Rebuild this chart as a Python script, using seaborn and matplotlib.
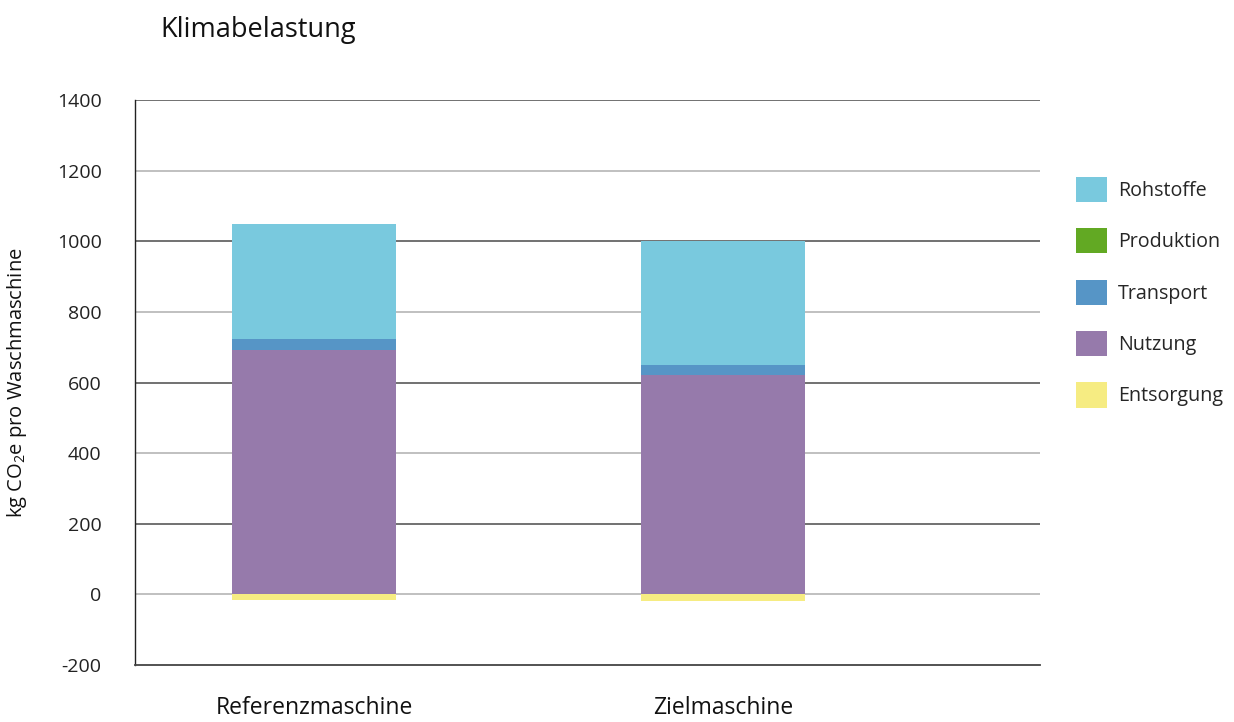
import matplotlib
matplotlib.use('Agg')
import matplotlib.pyplot as plt
from matplotlib.patches import Patch
import seaborn as sns
import pandas as pd

# data
machines = ['Referenzmaschine', 'Zielmaschine']
rohstoffe = [327, 350]
produktion = [0, 0]
transport = [30, 30]
nutzung = [693, 620]
entsorgung = [-17, -20]

stages = ['Rohstoffe', 'Produktion', 'Transport', 'Nutzung', 'Entsorgung']
colors = ['#79c9de', '#62a923', '#5695c6', '#967aab', '#f6ec82']

sns.set_theme(style='white')
plt.rcParams['font.family'] = ['Open Sans', 'DejaVu Sans']
plt.rcParams['mathtext.fontset'] = 'custom'
plt.rcParams['mathtext.rm'] = 'Open Sans'
plt.rcParams['mathtext.it'] = 'Open Sans'
plt.rcParams['axes.unicode_minus'] = False

df = pd.DataFrame({'machine': machines, 'Rohstoffe': rohstoffe,
                   'Produktion': produktion, 'Transport': transport,
                   'Nutzung': nutzung, 'Entsorgung': entsorgung})

# cumulative heights, drawn back to front so the bars look stacked
df['cum_nutzung'] = df.Nutzung
df['cum_produktion'] = df.cum_nutzung + df.Produktion
df['cum_transport'] = df.cum_produktion + df.Transport
df['cum_rohstoffe'] = df.cum_transport + df.Rohstoffe

fig = plt.figure(figsize=(12.34, 7.22), dpi=100)
ax = fig.add_axes([0.1094, 0.0789, 0.7334, 0.7826])

for col, c in zip(['cum_rohstoffe', 'cum_transport', 'cum_produktion',
                   'cum_nutzung', 'Entsorgung'],
                  [colors[0], colors[2], colors[1], colors[3], colors[4]]):
    sns.barplot(data=df, x='machine', y=col, color=c, width=0.4,
                saturation=1, ax=ax, zorder=3, linewidth=0)

ax.set_ylim(-200, 1400)
ax.set_xlim(-0.438, 1.775)
ax.set_yticks(range(-200, 1401, 200))
for v in range(0, 1401, 200):
    dark = (v // 200) % 2 == 1
    ax.axhline(v, color='#666666' if dark else '#bbbbbb', lw=1.3, zorder=1)

for s in ['top', 'right']:
    ax.spines[s].set_visible(False)
ax.spines['left'].set_color('#222222')
ax.spines['bottom'].set_color('#444444')
ax.spines['left'].set_linewidth(1.0)
ax.spines['bottom'].set_linewidth(1.3)

ax.tick_params(axis='y', labelsize=14, length=0, pad=24, colors='#222222')
ax.tick_params(axis='x', labelsize=16.5, length=0, pad=22, colors='#111111')
ax.set_xlabel('')
ax.set_ylabel(r'kg CO$_2$e pro Waschmaschine', fontsize=14.5, labelpad=20,
              color='#111111')

fig.text(160 / 1234, 1 - 30 / 722, 'Klimabelastung', fontsize=19.5,
         ha='left', va='center', color='#111111')

handles = [Patch(facecolor=c, edgecolor='none', label=l)
           for l, c in zip(stages, colors)]
fig.legend(handles=handles, loc='upper left',
           bbox_to_anchor=(1058 / 1234, 1 - 159 / 722), frameon=False,
           fontsize=14.2, handlelength=1.6, handleheight=1.6,
           labelspacing=1.32, handletextpad=0.55)

fig.savefig('out.png', dpi=100)
